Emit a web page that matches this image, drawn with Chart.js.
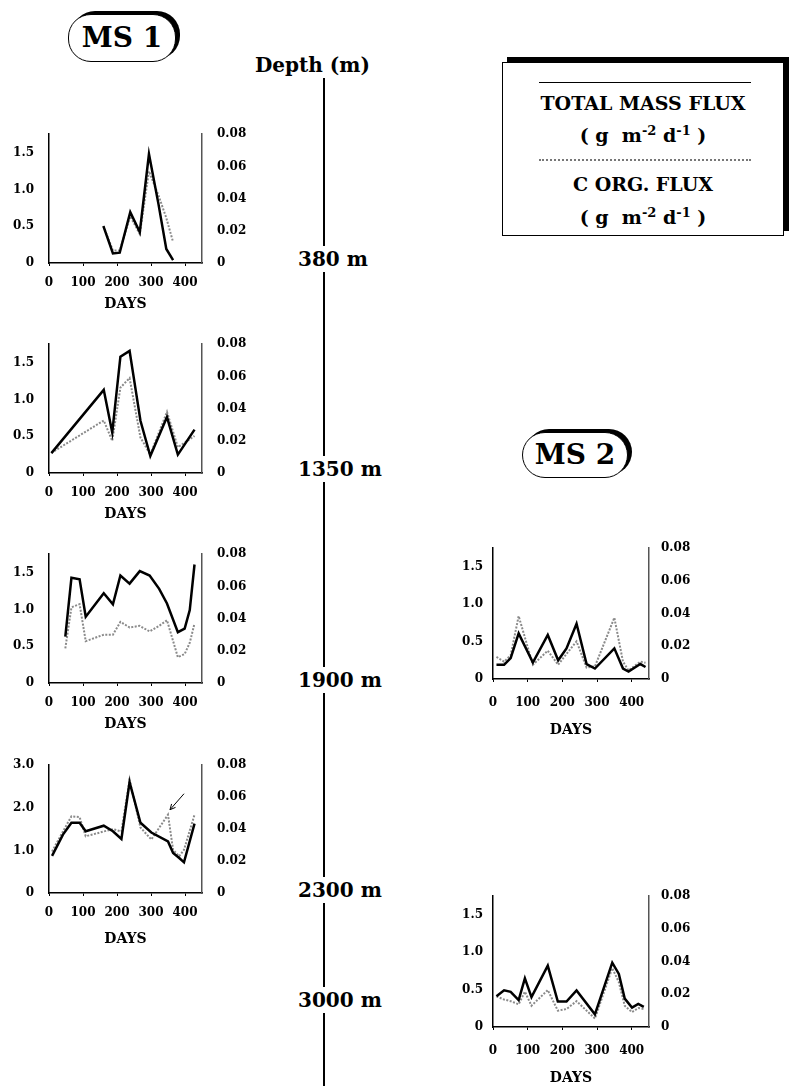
<!DOCTYPE html>
<html>
<head>
<meta charset="utf-8">
<script src="https://cdn.jsdelivr.net/npm/chart.js@4.4.1/dist/chart.umd.min.js"></script>
<style>
  body { margin: 0; background: #fff; font-family: 'DejaVu Serif', serif; font-weight: bold; color: #000; }
  #page { position: relative; width: 789px; height: 1086px; overflow: hidden; }
  canvas { position: absolute; }
  .pill { position: absolute; border: 1.5px solid #000; border-radius: 23px; box-shadow: 4px -3px 0 #000;
          text-align: center; font-size: 28px; background: #fff; }
  .depth { position: absolute; left: 298px; font-size: 20px; line-height: 20px; background: #fff; padding: 3px 0; }
  #vline { position: absolute; left: 323px; top: 76px; width: 2px; height: 1010px; background: #000; }
  #legend { position: absolute; left: 502px; top: 62px; width: 280px; height: 172px; border: 1.5px solid #000;
            box-shadow: 5px -5px 0 #000; background: #fff; }
  #legend .t { position: absolute; left: 0; width: 100%; text-align: center; font-size: 19px; line-height: 22px; }
  #legend sup { font-size: 13px; }
  .ln { position: absolute; left: 36px; width: 212px; }
</style>
</head>
<body>
<div id="page">
  <div class="pill" style="left:68px; top:14px; width:106px; height:46px; line-height:46px;">MS 1</div>
  <div class="pill" style="left:522px; top:432px; width:104px; height:44px; line-height:44px;">MS 2</div>

  <div id="vline"></div>
  <div class="depth" style="left:255px; top:52px;">Depth (m)</div>
  <div class="depth" style="top:246px;">380 m</div>
  <div class="depth" style="top:456px;">1350 m</div>
  <div class="depth" style="top:667px;">1900 m</div>
  <div class="depth" style="top:877px;">2300 m</div>
  <div class="depth" style="top:987px;">3000 m</div>

  <div id="legend">
    <div class="ln" style="top:19px; border-top:1.5px solid #000;"></div>
    <div class="t" style="top:29px;">TOTAL MASS FLUX</div>
    <div class="t" style="top:57px;">( g&nbsp; m<sup>-2</sup> d<sup>-1</sup> )</div>
    <div class="ln" style="top:96px; border-top:2px dotted #777;"></div>
    <div class="t" style="top:110px;">C ORG. FLUX</div>
    <div class="t" style="top:139px;">( g&nbsp; m<sup>-2</sup> d<sup>-1</sup> )</div>
  </div>

  <canvas id="p1" width="260" height="201" style="left:0; top:112px;"></canvas>
  <canvas id="p2" width="260" height="201" style="left:0; top:322px;"></canvas>
  <canvas id="p3" width="260" height="201" style="left:0; top:532px;"></canvas>
  <canvas id="p4" width="260" height="205" style="left:0; top:743px;"></canvas>
  <canvas id="p5" width="272" height="210" style="left:448px; top:529px;"></canvas>
  <canvas id="p6" width="272" height="210" style="left:448px; top:877px;"></canvas>
</div>

<script>
// MS 1, 380 m
const ms1_380_days = [160, 188, 208, 239, 267, 294, 322, 345, 365];
const ms1_380_mass = [0.50, 0.13, 0.14, 0.69, 0.42, 1.48, 0.80, 0.19, 0.04];
const ms1_380_corg = [0.023, 0.0077, 0.0077, 0.029, 0.018, 0.057, 0.042, 0.028, 0.013];

// MS 1, 1350 m
const ms1_1350_days = [7, 161, 186, 210, 237, 269, 298, 347, 379, 428];
const ms1_1350_mass = [0.27, 1.13, 0.55, 1.58, 1.66, 0.71, 0.23, 0.76, 0.25, 0.59];
const ms1_1350_corg = [0.0125, 0.0326, 0.020, 0.053, 0.059, 0.022, 0.0115, 0.038, 0.016, 0.023];

// MS 1, 1900 m
const ms1_1900_days = [48, 66, 90, 108, 161, 188, 210, 237, 267, 296, 324, 347, 379, 399, 414, 428];
const ms1_1900_mass = [0.63, 1.43, 1.41, 0.90, 1.22, 1.07, 1.46, 1.35, 1.52, 1.46, 1.28, 1.08, 0.69, 0.74, 0.99, 1.61];
const ms1_1900_corg = [0.0215, 0.047, 0.049, 0.026, 0.030, 0.030, 0.038, 0.0345, 0.0355, 0.032, 0.0355, 0.039, 0.016, 0.018, 0.025, 0.037];

// MS 1, 2300 m
const ms1_2300_days = [9, 41, 66, 90, 108, 161, 188, 213, 237, 269, 301, 350, 365, 383, 397, 428];
const ms1_2300_mass = [0.87, 1.37, 1.65, 1.65, 1.45, 1.58, 1.45, 1.27, 2.60, 1.65, 1.42, 1.21, 0.94, 0.82, 0.72, 1.63];
const ms1_2300_corg = [0.026, 0.0385, 0.048, 0.0475, 0.0355, 0.0385, 0.040, 0.0385, 0.071, 0.041, 0.0335, 0.049, 0.027, 0.023, 0.027, 0.049];

// MS 2, 1900 m
const ms2_1900_days = [10, 32, 51, 74, 115, 158, 188, 212, 241, 270, 294, 350, 375, 391, 425, 440];
const ms2_1900_mass = [0.19, 0.19, 0.28, 0.61, 0.22, 0.59, 0.25, 0.41, 0.74, 0.20, 0.14, 0.41, 0.14, 0.10, 0.20, 0.16];
const ms2_1900_corg = [0.0135, 0.0106, 0.0145, 0.0385, 0.0087, 0.0173, 0.0087, 0.0154, 0.023, 0.007, 0.0077, 0.0375, 0.0106, 0.0052, 0.0106, 0.010];

// MS 2, 3000 m
const ms2_3000_days = [10, 32, 51, 74, 92, 111, 158, 187, 212, 241, 294, 344, 363, 380, 401, 419, 435];
const ms2_3000_mass = [0.41, 0.49, 0.47, 0.36, 0.65, 0.40, 0.82, 0.34, 0.34, 0.49, 0.17, 0.86, 0.71, 0.38, 0.26, 0.31, 0.27];
const ms2_3000_corg = [0.0187, 0.0168, 0.0158, 0.0139, 0.0216, 0.013, 0.0226, 0.010, 0.011, 0.0158, 0.0052, 0.036, 0.0274, 0.013, 0.0091, 0.0116, 0.011];

// tick labels
const dayTicks = [0, 100, 200, 300, 400];
const corgTicks = [0, 0.02, 0.04, 0.06, 0.08];

Chart.defaults.font.family = "'DejaVu Serif', serif";
Chart.defaults.font.weight = 'bold';
Chart.defaults.font.size = 12;
Chart.defaults.color = '#000';

// little arrow pointing at one C org point (MS 1, 2300 m)
const arrowPlugin = {
    id: 'arrow',
    afterDatasetsDraw(chart, args, opts) {
        if (opts.index == null) return;
        const pt = chart.getDatasetMeta(1).data[opts.index];
        const x1 = pt.x + 16, y1 = pt.y - 21, x2 = pt.x + 2, y2 = pt.y - 5;
        const ctx = chart.ctx;
        ctx.save();
        ctx.strokeStyle = '#000';
        ctx.lineWidth = 1;
        ctx.beginPath();
        ctx.moveTo(x1, y1);
        ctx.lineTo(x2, y2);
        const a = Math.atan2(y2 - y1, x2 - x1);
        ctx.moveTo(x2, y2);
        ctx.lineTo(x2 - 6 * Math.cos(a - 0.45), y2 - 6 * Math.sin(a - 0.45));
        ctx.moveTo(x2, y2);
        ctx.lineTo(x2 - 6 * Math.cos(a + 0.45), y2 - 6 * Math.sin(a + 0.45));
        ctx.stroke();
        ctx.restore();
    }
};

function makePanel(id, days, mass, corg, o) {
    const ctx = document.getElementById(id);
    new Chart(ctx, {
        type: 'line',
        data: {
            datasets: [{
                data: days.map((d, i) => ({x: d, y: mass[i]})),
                yAxisID: 'y',
                borderColor: '#000',
                borderWidth: 2.5,
                pointRadius: 0,
                tension: 0
            }, {
                data: days.map((d, i) => ({x: d, y: corg[i]})),
                yAxisID: 'y1',
                borderColor: '#8a8a8a',
                borderWidth: 2,
                borderDash: [2, 1.5],
                pointRadius: 0,
                tension: 0
            }]
        },
        options: {
            responsive: false,
            animation: false,
            layout: { padding: { top: 12, left: 0, right: 0, bottom: 0 } },
            plugins: {
                legend: { display: false },
                tooltip: { enabled: false },
                arrow: { index: o.arrowAt }
            },
            scales: {
                x: {
                    type: 'linear',
                    min: 0, max: 450,
                    afterBuildTicks: s => { s.ticks = dayTicks.map(v => ({value: v})); },
                    ticks: { padding: o.xPad, maxRotation: 0, autoSkip: false },
                    grid: { drawOnChartArea: false, drawTicks: true, tickLength: 3, color: '#000' },
                    border: { color: '#000', width: 1.5 },
                    title: { display: true, text: 'DAYS', font: { size: 14, weight: 'bold' }, padding: 0 },
                    afterFit: s => { s.height = o.xHeight; }
                },
                y: {
                    position: 'left',
                    min: 0, max: o.leftMax,
                    afterBuildTicks: s => { s.ticks = o.leftTicks.map(v => ({value: v})); },
                    ticks: {
                        padding: o.leftPad,
                        callback: v => v === 0 ? '0' : v.toFixed(1)
                    },
                    grid: { display: false, drawTicks: false },
                    border: { color: '#000', width: 1.5 },
                    afterFit: s => { s.width = o.leftW; }
                },
                y1: {
                    position: 'right',
                    min: 0, max: 0.08,
                    afterBuildTicks: s => { s.ticks = corgTicks.map(v => ({value: v})); },
                    ticks: {
                        padding: o.rightPad,
                        callback: v => v === 0 ? '0' : v.toFixed(2)
                    },
                    grid: { display: false, drawTicks: false },
                    border: { color: '#555', width: 1.5 },
                    afterFit: s => { s.width = o.rightW; }
                }
            }
        },
        plugins: [arrowPlugin]
    });
}

const leftOpts = { leftMax: 1.75, leftTicks: [0, 0.5, 1.0, 1.5], leftW: 49, rightW: 58,
                   leftPad: 15, rightPad: 15, xPad: 10, xHeight: 50 };
makePanel('p1', ms1_380_days, ms1_380_mass, ms1_380_corg, leftOpts);
makePanel('p2', ms1_1350_days, ms1_1350_mass, ms1_1350_corg, leftOpts);
makePanel('p3', ms1_1900_days, ms1_1900_mass, ms1_1900_corg, leftOpts);
makePanel('p4', ms1_2300_days, ms1_2300_mass, ms1_2300_corg,
    Object.assign({}, leftOpts, { leftMax: 3.0, leftTicks: [0, 1.0, 2.0, 3.0], xHeight: 55, arrowAt: 11 }));

const rightOpts = { leftMax: 1.75, leftTicks: [0, 0.5, 1.0, 1.5], leftW: 45, rightW: 71,
                    leftPad: 10, rightPad: 12, xPad: 14, xHeight: 60 };
makePanel('p5', ms2_1900_days, ms2_1900_mass, ms2_1900_corg, rightOpts);
makePanel('p6', ms2_3000_days, ms2_3000_mass, ms2_3000_corg, rightOpts);
</script>
</body>
</html>
